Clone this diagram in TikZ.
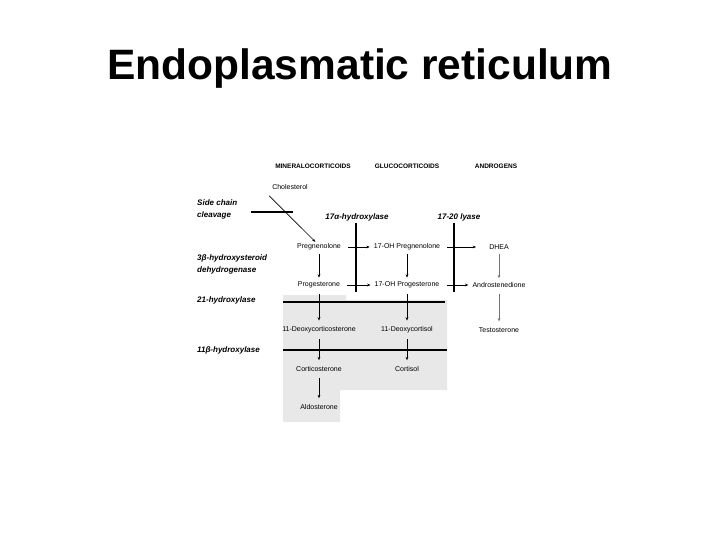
\documentclass[tikz,border=0pt]{standalone}
\usepackage{fontspec}
\setmainfont{Liberation Sans}
\usetikzlibrary{arrows.meta,calc,positioning}

\begin{document}
\begin{tikzpicture}[x=1pt,y=-1pt,>={Stealth[length=3.4pt,width=2.8pt]},
  met/.style={font=\fontsize{7}{8}\selectfont,inner sep=1pt},
  enz/.style={font=\fontsize{8}{12}\selectfont\bfseries\itshape,align=left,anchor=west,inner sep=0pt},
  grp/.style={font=\fontsize{6.5}{7}\selectfont\bfseries,inner sep=0pt},
  bar/.style={line width=1.3pt},
  react/.style={->,line width=0.6pt,shorten <=3pt,shorten >=3pt}]
  \useasboundingbox (0,0) rectangle (720,540);
  % title
  \node[font=\fontsize{42.5}{50}\selectfont\bfseries,anchor=base] (title) at (360,80) {Endoplasmatic reticulum};
  % shaded part
  \fill[black!9] (283,295) -- (346,295) -- (346,300) -- (447,300) -- (447,390)
    -- (340,390) -- (340,422) -- (283,422) -- cycle;
  % groups
  \node[grp] (mineral) at (313,166) {MINERALOCORTICOIDS};
  \node[grp] (gluco) at (407,166) {GLUCOCORTICOIDS};
  \node[grp] (andro-h) at (496,166) {ANDROGENS};
  % enzymes
  \node[enz] (scc) at (197,209) {Side chain\\cleavage};
  \node[enz] (hsd) at (197,264) {3β-hydroxysteroid\\dehydrogenase};
  \node[enz] (h21) at (197,300) {21-hydroxylase};
  \node[enz] (h11) at (197,350) {11β-hydroxylase};
  \node[enz,anchor=center] (h17) at (357,217) {17α-hydroxylase};
  \node[enz,anchor=center] (lyase) at (459,217) {17-20 lyase};
  \draw[bar] (251,212) -- (293,212);
  \draw[bar] (356,223) -- (356,292);
  \draw[bar] (454,223) -- (454,292);
  \draw[bar] (283,302) -- (445,302);
  \draw[bar] (283,350) -- (447,350);
  % steroids
  \node[met] (chol) at (290,187) {Cholesterol};
  \node[met] (preg) at (319,247) {Pregnenolone};
  \node[met] (ohpreg) at (407,247) {17-OH Pregnenolone};
  \node[met] (dhea) at (499,247) {DHEA};
  \node[met] (prog) at (319,285) {Progesterone};
  \node[met] (ohprog) at (407,285) {17-OH Progesterone};
  \node[met] (andro) at (499,285) {Androstenedione};
  \node[met] (doc) at (319,330) {11-Deoxycorticosterone};
  \node[met] (dcort) at (407,330) {11-Deoxycortisol};
  \node[met] (testo) at (499,330) {Testosterone};
  \node[met] (cortico) at (319,369) {Corticosterone};
  \node[met] (cortisol) at (407,369) {Cortisol};
  \node[met] (aldo) at (319,407) {Aldosterone};
  % reactions
  \draw[react,shorten <=0pt,shorten >=1pt] ([shift={(-2pt,-5pt)}]chol.south west) -- ([xshift=-3pt]preg.north);
  \draw[react,shorten <=6pt] (preg) -- (ohpreg);
  \draw[react,shorten <=6pt,shorten >=12pt] (ohpreg) -- (dhea);
  \draw[react,shorten <=6pt] (prog) -- (ohprog);
  \draw[react,shorten <=6pt] (ohprog) -- (andro);
  \draw[react] (preg) -- (prog);
  \draw[react] (ohpreg) -- (ohprog);
  \draw[react,black!55] (dhea) -- (andro);
  \draw[react,shorten <=5pt,shorten >=5pt] (prog) -- (doc);
  \draw[react,shorten <=5pt,shorten >=5pt] (ohprog) -- (dcort);
  \draw[react,black!55,shorten <=5pt,shorten >=5pt] (andro) -- (testo);
  \draw[react,shorten <=5pt,shorten >=5pt] (doc) -- (cortico);
  \draw[react,shorten <=5pt,shorten >=5pt] (dcort) -- (cortisol);
  \draw[react,shorten <=5pt,shorten >=5pt] (cortico) -- (aldo);
\end{tikzpicture}
\end{document}
